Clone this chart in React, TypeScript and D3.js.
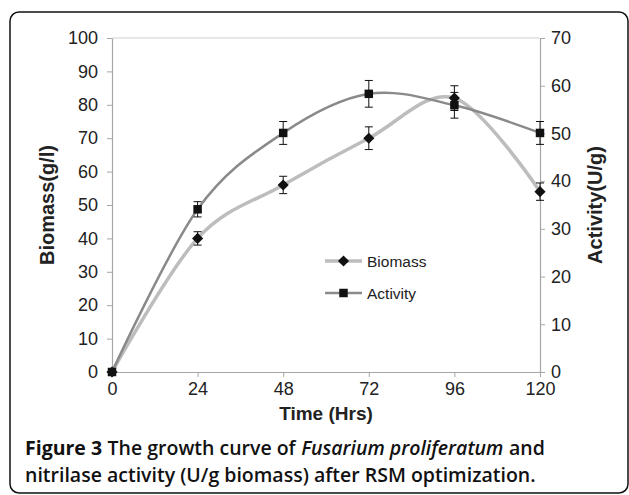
import React, { useEffect, useRef } from "react";
import * as d3 from "d3";

const hours = [0, 24, 48, 72, 96, 120];
const biomass = [0, 40, 56, 70, 82, 54];
const biomassErr = [0, 2, 2.6, 3.4, 3.7, 2.6];
const activity = [0, 34.1, 50.1, 58.3, 55.9, 50.1];
const activityErr = [0, 1.6, 2.4, 2.8, 2.7, 2.4];

const xTicks = [0, 24, 48, 72, 96, 120];
const leftTicks = [0, 10, 20, 30, 40, 50, 60, 70, 80, 90, 100];
const rightTicks = [0, 10, 20, 30, 40, 50, 60, 70];

const W = 629;
const H = 495;
const M = { left: 112, right: 89, top: 38, bottom: 123 };
const FONT = "'Liberation Sans', Arial, sans-serif";
const CAP_FONT = "'Open Sans', sans-serif";

export default function App() {
  const ref = useRef<SVGSVGElement>(null);

  useEffect(() => {
    const svg = d3.select(ref.current);
    svg.selectAll("*").remove();

    const x = d3.scaleLinear().domain([0, 120]).range([M.left, W - M.right]);
    const yL = d3.scaleLinear().domain([0, 100]).range([H - M.bottom, M.top]);
    const yR = d3.scaleLinear().domain([0, 70]).range([H - M.bottom, M.top]);

    // frame round the figure
    svg.append("rect")
      .attr("x", 10).attr("y", 12)
      .attr("width", 618).attr("height", 481)
      .attr("rx", 9)
      .attr("fill", "none")
      .attr("stroke", "#111")
      .attr("stroke-width", 1.5);

    // plot area top edge
    svg.append("line")
      .attr("x1", x(0)).attr("x2", x(120))
      .attr("y1", M.top).attr("y2", M.top)
      .attr("stroke", "#d0d0d0");

    const styleAxis = (g) => {
      g.select(".domain").attr("stroke", "#a6a6a6").attr("stroke-width", 1.2);
      g.selectAll(".tick line").attr("stroke", "#a6a6a6");
      g.selectAll(".tick text")
        .attr("fill", "#222")
        .attr("font-size", 18)
        .attr("font-family", FONT);
    };

    svg.append("g")
      .attr("transform", `translate(${M.left},0)`)
      .call(d3.axisLeft(yL).tickValues(leftTicks).tickSize(5).tickSizeOuter(0).tickPadding(9))
      .call(styleAxis);

    svg.append("g")
      .attr("transform", `translate(${W - M.right},0)`)
      .call(d3.axisRight(yR).tickValues(rightTicks).tickSize(5).tickSizeOuter(0).tickPadding(6))
      .call(styleAxis);

    svg.append("g")
      .attr("transform", `translate(0,${H - M.bottom})`)
      .call(d3.axisBottom(x).tickValues(xTicks).tickSize(5).tickSizeOuter(0).tickPadding(5))
      .call(styleAxis);

    // smoothed lines, like the spreadsheet "smooth line" option
    const curve = d3.curveCardinal.tension(0);
    const bioLine = d3.line<number>()
      .x((d, i) => x(hours[i]))
      .y(d => yL(d))
      .curve(curve);
    const actLine = d3.line<number>()
      .x((d, i) => x(hours[i]))
      .y(d => yR(d))
      .curve(curve);

    svg.append("path")
      .attr("d", bioLine(biomass))
      .attr("fill", "none")
      .attr("stroke", "#bdbdbd")
      .attr("stroke-width", 3.5);

    svg.append("path")
      .attr("d", actLine(activity))
      .attr("fill", "none")
      .attr("stroke", "#8a8a8a")
      .attr("stroke-width", 2.5);

    // error bars
    const errBars = (vals, errs, y) => {
      const g = svg.append("g").attr("stroke", "#111").attr("stroke-width", 1);
      vals.forEach((v, i) => {
        if (!errs[i]) return;
        const cx = x(hours[i]);
        const y1 = y(v + errs[i]);
        const y2 = y(v - errs[i]);
        g.append("line").attr("x1", cx).attr("x2", cx).attr("y1", y1).attr("y2", y2);
        g.append("line").attr("x1", cx - 4).attr("x2", cx + 4).attr("y1", y1).attr("y2", y1);
        g.append("line").attr("x1", cx - 4).attr("x2", cx + 4).attr("y1", y2).attr("y2", y2);
      });
    };
    errBars(biomass, biomassErr, yL);
    errBars(activity, activityErr, yR);

    // diamond = square turned 45 degrees
    const diamond = d3.symbol(d3.symbolSquare, 62);
    const square = d3.symbol(d3.symbolSquare, 72);

    svg.append("g").selectAll("path")
      .data(biomass)
      .join("path")
      .attr("d", diamond)
      .attr("transform", (d, i) => `translate(${x(hours[i])},${yL(d)}) rotate(45)`)
      .attr("fill", "#111");

    svg.append("g").selectAll("path")
      .data(activity)
      .join("path")
      .attr("d", square)
      .attr("transform", (d, i) => `translate(${x(hours[i])},${yR(d)})`)
      .attr("fill", "#111");

    // legend
    const legend = [
      { name: "Biomass", color: "#bdbdbd", width: 3.5, sym: diamond, rot: 45, y: 261 },
      { name: "Activity", color: "#8a8a8a", width: 2.5, sym: square, rot: 0, y: 293 },
    ];
    legend.forEach(l => {
      svg.append("line")
        .attr("x1", 325).attr("x2", 362)
        .attr("y1", l.y).attr("y2", l.y)
        .attr("stroke", l.color).attr("stroke-width", l.width);
      svg.append("path")
        .attr("d", l.sym)
        .attr("transform", `translate(343.5,${l.y}) rotate(${l.rot})`)
        .attr("fill", "#111");
      svg.append("text")
        .attr("x", 367).attr("y", l.y + 5.5)
        .attr("font-family", FONT)
        .attr("font-size", 15.5)
        .attr("fill", "#222")
        .text(l.name);
    });

    // axis titles
    svg.append("text")
      .attr("transform", `translate(54,${(M.top + H - M.bottom) / 2}) rotate(-90)`)
      .attr("text-anchor", "middle")
      .attr("font-family", FONT)
      .attr("font-weight", "bold")
      .attr("font-size", 20)
      .attr("fill", "#222")
      .text("Biomass(g/l)");

    svg.append("text")
      .attr("transform", `translate(602,${(M.top + H - M.bottom) / 2}) rotate(-90)`)
      .attr("text-anchor", "middle")
      .attr("font-family", FONT)
      .attr("font-weight", "bold")
      .attr("font-size", 20)
      .attr("fill", "#222")
      .text("Activity(U/g)");

    svg.append("text")
      .attr("x", (x(0) + x(120)) / 2).attr("y", 420)
      .attr("text-anchor", "middle")
      .attr("font-family", FONT)
      .attr("font-weight", "bold")
      .attr("font-size", 19)
      .attr("fill", "#222")
      .text("Time (Hrs)");

    // caption: first line is pieces of mixed style, placed one after another
    const pieces = [
      { t: "Figure 3", w: 700, s: "normal" },
      { t: "The growth curve of", w: 600, s: "normal" },
      { t: "Fusarium proliferatum", w: 600, s: "italic" },
      { t: "and", w: 600, s: "normal" },
    ];
    let cx = 25;
    pieces.forEach(p => {
      const t = svg.append("text")
        .attr("x", cx).attr("y", 455)
        .attr("font-family", CAP_FONT)
        .attr("font-size", 19.5)
        .attr("font-weight", p.w)
        .attr("font-style", p.s)
        .attr("fill", "#111")
        .text(p.t);
      cx += t.node().getComputedTextLength() + 5.5;
    });

    svg.append("text")
      .attr("x", 25).attr("y", 482)
      .attr("font-family", CAP_FONT)
      .attr("font-size", 19.5)
      .attr("font-weight", 600)
      .attr("fill", "#111")
      .text("nitrilase activity (U/g biomass) after RSM optimization.");
  }, []);

  return (
    <svg
      ref={ref}
      width={W}
      height={H}
      style={{ position: "absolute", left: 0, top: 0, background: "#fff" }}
    />
  );
}
